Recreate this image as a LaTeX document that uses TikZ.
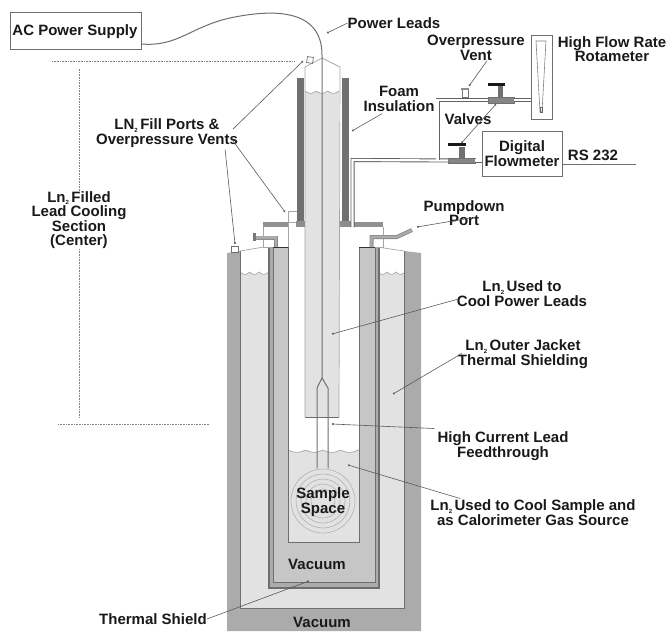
\documentclass[tikz,border=0pt]{standalone}
\usepackage{fontspec}
\setmainfont{Liberation Sans}
\usepackage{tikz}
\usetikzlibrary{arrows.meta}
\definecolor{jacketgray}{HTML}{ABABAB}
\definecolor{lngray}{HTML}{E2E2E2}
\definecolor{vacgray}{HTML}{C6C6C6}
\definecolor{foamgray}{HTML}{707070}
\definecolor{linegray}{HTML}{6E6E6E}
\tikzset{
  txtlabel/.style={font=\bfseries\fontsize{15}{14.5}\selectfont, text=black!90, align=center, inner sep=0pt},
  instbox/.style={draw=linegray, line width=0.8pt, fill=white, inner sep=0pt, outer sep=0pt, align=center},
  valvebody/.style={draw=foamgray, fill=foamgray!85, inner sep=0pt, outer sep=0pt},
  leader/.style={draw=black!65, line width=0.6pt, -{Circle[length=2pt]}},
  dimline/.style={draw=black!50, line width=0.6pt, densely dotted},
  pipeline/.style={draw=black!62, line width=0.9pt, double=white, double distance=2.2pt},
  wall/.style={draw=linegray, line width=0.8pt},
  thinwall/.style={draw=black!35, line width=0.7pt}
}
\newcommand{\subtwo}{\raisebox{-2.5pt}{\fontsize{6}{6}\selectfont 2}\,}
\newcommand{\lnwave}[3]{#1+2.4*abs(sin((\x-#2)*180/#3))}

\begin{document}
\begin{tikzpicture}[x=1pt, y=-1pt]
  \useasboundingbox (0,0) rectangle (668,631);

  \fill[jacketgray] (227,253) -- (240,251) -- (240,608) -- (404,608) -- (404,251) -- (421,253) -- (421,631) -- (227,631) -- cycle;
  \fill[lngray] (240,608) -- plot[domain=240:269,samples=60] (\x,{\lnwave{272}{240}{9.6}}) -- (269,608) -- cycle;
  \fill[lngray] (378,608) -- plot[domain=378:404,samples=60] (\x,{\lnwave{272}{378}{9}}) -- (404,608) -- cycle;
  \fill[lngray] (240,608) rectangle (404,585);
  \draw[thinwall] plot[domain=240:269,samples=60] (\x,{\lnwave{272}{240}{9.6}});
  \draw[thinwall] plot[domain=378:404,samples=60] (\x,{\lnwave{272}{378}{9}});
  \draw[wall] (240,251) -- (240,608) -- (404,608) -- (404,251);
  \draw[thinwall] (240,251) -- (264,247);
  \draw[thinwall] (377,247) -- (404,251);
  \draw[wall, fill=white] (231,246) rectangle (238,252);

  \fill[jacketgray] (269,247) rectangle (379,588);
  \draw[wall, line width=1.1pt] (269,247) -- (269,588) -- (379,588) -- (379,247);
  \fill[vacgray] (273,247) rectangle (375,582);
  \draw[wall] (273,247) -- (273,582) -- (375,582) -- (375,247);

  \fill[white] (288,211) rectangle (359,453);
  \fill[lngray] (288,542) -- plot[domain=288:359,samples=80] (\x,{\lnwave{450}{288}{17.5}}) -- (359,542) -- cycle;
  \draw[thinwall] plot[domain=288:359,samples=80] (\x,{\lnwave{450}{288}{17.5}});
  \draw[wall] (288,247) -- (288,542) -- (359,542) -- (359,247);
  \foreach \r in {32,27,22,17,12} {
    \draw[black!30, line width=0.6pt] (323,501) circle[radius=\r];
  }

  \fill[white] (263,227) rectangle (288,247);
  \fill[white] (359,227) rectangle (383,247);
  \draw[thinwall] (263,227) -- (263,247) -- (273,247);
  \draw[thinwall] (383,227) -- (383,247) -- (375,247);
  \draw[black!80, line width=0.8pt] (273,247) -- (288,247);
  \draw[black!80, line width=0.8pt] (359,247) -- (375,247);
  \fill[jacketgray!85!black] (263,222) rectangle (288,227);
  \fill[jacketgray!85!black] (354,222) rectangle (383,227);

  \draw[pipeline, draw=black!45, double=jacketgray] (256,237.5) -- (276,237.5) -- (276,247);
  \fill[jacketgray!70!black] (253,233) rectangle (256,241);
  \draw[pipeline, draw=black!45, double=jacketgray] (371.5,247) -- (371.5,237) -- (397,237) -- (412,230);
  \draw[thinwall, fill=white] (288,211) rectangle (297,222);
  \draw[thinwall] (288,211) -- (288,247);

  \fill[lngray] (305,417) -- plot[domain=305:339,samples=50] (\x,{\lnwave{91}{305}{11.3}}) -- (339,417) -- cycle;
  \draw[thinwall] plot[domain=305:339,samples=50] (\x,{\lnwave{91}{305}{11.3}});
  \draw[thinwall] (305,417) -- (305,67) -- (322,58) -- (340,67) -- (339,417);
  \draw[wall] (305,417) -- (339,417);
  \fill[foamgray] (297,78) rectangle (304,221);
  \fill[foamgray] (342,78) rectangle (349,221);
  \fill[foamgray!80] (296,221) rectangle (305,227);
  \fill[foamgray!80] (340,221) rectangle (351,227);
  \draw[black!60, line width=0.7pt, fill=white, rotate around={-8:(310,60)}] (307,57) rectangle (313,63);

  \node[instbox, minimum width=131pt, minimum height=37pt] (acbox) at (75.5,30.5) {};
  \node[txtlabel] (aclabel) at (75,32) {AC Power Supply};
  \coordinate (acout) at (141,44);
  \coordinate (leadsplit) at (322,378);
  \draw[wall, line width=1pt] (acout) .. controls (178,47) and (190,27) .. (230,18) .. controls (272,9) and (322,8) .. (322,55) -- (leadsplit);
  \draw[wall, line width=1pt] (leadsplit) -- (317,388) -- (317,468);
  \draw[wall, line width=1pt] (leadsplit) -- (328,388) -- (328,468);

  \node[instbox, minimum width=21pt, minimum height=84pt] (rotabox) at (541.5,77) {};
  \node[valvebody, minimum width=26pt, minimum height=6pt] (valvetop) at (501,100) {};
  \node[valvebody, minimum width=27pt, minimum height=5.5pt] (valvelow) at (461.5,160.5) {};
  \coordinate (pipetee) at (437.5,160);
  \coordinate (pipetop) at (437.5,100);
  \coordinate (pipeleft) at (352.5,160);
  \coordinate (pipedown) at (352.5,227);
  \coordinate (flowin) at (482,160.5);
  \draw[pipeline] (pipedown) -- (pipeleft) -- (valvelow.west);
  \draw[pipeline] (pipetee) -- (pipetop) -- (valvetop.west);
  \draw[pipeline] (valvetop.east) -- (rotabox.west |- valvetop.east);
  \draw[pipeline] (valvelow.east) -- (flowin);
  \node[instbox, txtlabel, draw=linegray, fill=white, minimum width=80pt, minimum height=45pt] (flowbox) at (522,153.5) {Digital\\Flowmeter};
  \node[instbox, draw=black!55, minimum width=6pt, minimum height=9pt] (ventbox) at (465,93) {};
  \fill[black!45] (461,88) rectangle (469,90);
  \fill[foamgray] (498,86) rectangle (503,97);
  \fill[black!90] (488,83) rectangle (505,86);
  \fill[foamgray] (459,147) rectangle (465,158);
  \fill[black!90] (448,143) rectangle (466,146);
  \draw[black!50, line width=0.6pt, fill=white] (536,41) -- (546,41) -- (542,112) -- (540,112) -- cycle;
  \draw[black!60, line width=0.6pt] (540,107) rectangle (542,112);
  \coordinate (rsend) at (636,164);
  \draw[wall] (flowbox.east |- rsend) -- (rsend);

  \node[txtlabel] (powerleads) at (394,23) {Power Leads};
  \node[txtlabel] (fillports) at (167,133) {LN\subtwo Fill Ports \&\\Overpressure Vents};
  \node[txtlabel] (leadsection) at (79,220) {Ln\subtwo Filled\\Lead Cooling\\Section\\(Center)};
  \node[txtlabel] (ventlabel) at (476,48) {Overpressure\\Vent};
  \node[txtlabel] (rotalabel) at (612,49) {High Flow Rate\\Rotameter};
  \node[txtlabel] (foamlabel) at (399,99) {Foam\\Insulation};
  \node[txtlabel] (valvelabel) at (468,119) {Valves};
  \node[txtlabel] (rslabel) at (593,155) {RS 232};
  \node[txtlabel] (pumplabel) at (464,213) {Pumpdown\\Port};
  \node[txtlabel] (coollabel) at (522,293.5) {Ln\subtwo Used to\\Cool Power Leads};
  \node[txtlabel] (jacketlabel) at (523,354) {Ln\subtwo Outer Jacket\\Thermal Shielding};
  \node[txtlabel] (feedlabel) at (503,446) {High Current Lead\\Feedthrough};
  \node[txtlabel] (samplelabel) at (533,512.5) {Ln\subtwo Used to Cool Sample and\\as Calorimeter Gas Source};
  \node[txtlabel] (shieldlabel) at (153,619) {Thermal Shield};
  \node[txtlabel] (samplespace) at (323,502) {Sample\\Space};
  \node[txtlabel] (vacinner) at (317,564) {Vacuum};
  \node[txtlabel] (vacouter) at (322,622) {Vacuum};

  \draw[leader] (powerleads.west) -- (327,33);
  \draw[leader] (fillports.east) ++(-5,-4) -- (303,61);
  \draw[leader] (fillports.east) ++(-5,8) -- (285,212);
  \draw[leader] (fillports.south east) ++(-13,2) -- (235,244);
  \draw[leader] (foamlabel.south) ++(-17,2) -- (352,131);
  \draw[leader] (ventlabel.south) ++(11,0) -- (469,86);
  \draw[leader, {Circle[length=2pt]}-{Circle[length=2pt]}] (496,104) -- (461.5,143);
  \draw[leader] (pumplabel.east) ++(-34,5) -- (417,227);
  \draw[leader] (coollabel.south west) ++(0,-7) -- (332,334);
  \draw[leader] (jacketlabel.south west) ++(4,-15) -- (393,394);
  \draw[leader] (feedlabel.north west) ++(-3,-3) -- (332,424);
  \draw[leader] (samplelabel.north west) ++(30,-1) -- (348,465);
  \draw[leader] (shieldlabel.east) -- (309,581);

  \coordinate (topdotleft) at (52,61);
  \coordinate (topdotright) at (295,61);
  \coordinate (lowdotleft) at (58,424);
  \coordinate (lowdotright) at (210,424);
  \coordinate (dimtop) at (79,68);
  \coordinate (dimlow) at (79,418);
  \draw[dimline] (topdotleft) -- (topdotright);
  \draw[dimline] (lowdotleft) -- (lowdotright);
  \draw[dimline] (leadsection.north) -- (dimtop);
  \draw[dimline] (leadsection.south) -- (dimlow);
\end{tikzpicture}
\end{document}
